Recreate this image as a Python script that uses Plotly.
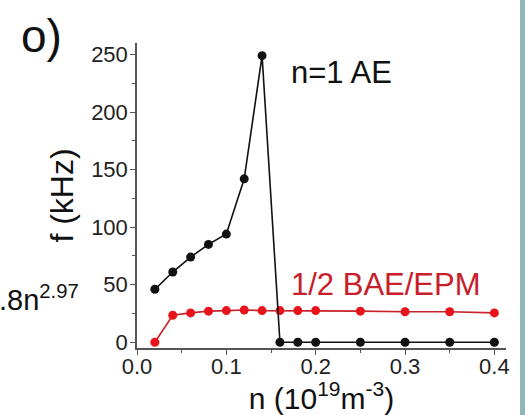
import plotly.graph_objects as go

# Data
x_vals = [0.02, 0.04, 0.06, 0.08, 0.10, 0.12, 0.14, 0.16, 0.18, 0.20, 0.25, 0.30, 0.35, 0.40]
ae_vals = [46, 61, 74, 85, 94, 142, 249, 0, 0, 0, 0, 0, 0, 0]
bae_vals = [0, 23.5, 25.5, 27, 27.5, 28, 27.5, 27.5, 27.5, 27.5, 27, 26.5, 26.5, 25.5]
x_ticks = [0.0, 0.1, 0.2, 0.3, 0.4]
x_tick_text = ["0.0", "0.1", "0.2", "0.3", "0.4"]
y_ticks = [0, 50, 100, 150, 200, 250]

W, H = 525, 415
ml, mr, mt, mb = 137, 19, 43, 67
pw = W - ml - mr
ph = H - mt - mb

font_main = "Liberation Sans, Arial, sans-serif"

fig = go.Figure()
fig.add_trace(go.Scatter(
    x=x_vals, y=bae_vals, mode="lines+markers",
    line=dict(color="#c8222b", width=1.6),
    marker=dict(color="#e8141c", size=9, line=dict(width=0)),
    cliponaxis=False, showlegend=False))
fig.add_trace(go.Scatter(
    x=x_vals, y=ae_vals, mode="lines+markers",
    line=dict(color="#111111", width=1.6),
    marker=dict(color="#111111", size=9, line=dict(width=0)),
    cliponaxis=False, showlegend=False))

axis_common = dict(
    showgrid=False, zeroline=False, showline=True, linecolor="#555555", linewidth=1.5,
    ticks="outside", ticklen=5, tickwidth=1.2, tickcolor="#555555", automargin=False,
    tickfont=dict(family=font_main, size=22, color="#222222"),
)
fig.update_xaxes(range=[0, 0.413], tickvals=x_ticks, ticktext=x_tick_text, ticklabelstandoff=-7,
                 minor=dict(ticks="outside", ticklen=3, tickwidth=1, tickcolor="#555555", dtick=0.05, tick0=0),
                 title=dict(text="n (10<sup>19</sup>m<sup>-3</sup>)", font=dict(family=font_main, size=30, color="#111111"), standoff=4),
                 **axis_common)
fig.update_yaxes(range=[-5, 260], tickvals=y_ticks, ticklabelstandoff=-2,
                 minor=dict(ticks="outside", ticklen=3, tickwidth=1, tickcolor="#555555", dtick=25, tick0=0),
                 title=dict(text="f (kHz)", font=dict(family=font_main, size=32, color="#111111"), standoff=8),
                 **axis_common)

def px_to_paper_x(px):
    return (px - ml) / pw

def py_to_paper_y(py):
    return (H - mb - py) / ph

fig.add_annotation(x=px_to_paper_x(19), y=py_to_paper_y(36), xref="paper", yref="paper",
                   text="o)", showarrow=False, xanchor="left", yanchor="middle",
                   font=dict(family=font_main, size=46, color="#111111"))
fig.add_annotation(x=px_to_paper_x(289), y=py_to_paper_y(72), xref="paper", yref="paper",
                   text="n=1 AE", showarrow=False, xanchor="left", yanchor="middle",
                   font=dict(family=font_main, size=31, color="#111111"))
fig.add_annotation(x=px_to_paper_x(289), y=py_to_paper_y(284), xref="paper", yref="paper",
                   text="1/2 BAE/EPM", showarrow=False, xanchor="left", yanchor="middle",
                   font=dict(family=font_main, size=31, color="#c8202a"))
fig.add_annotation(x=px_to_paper_x(-3), y=py_to_paper_y(298), xref="paper", yref="paper",
                   text=".8n<sup>2.97</sup>", showarrow=False, xanchor="left", yanchor="middle",
                   font=dict(family=font_main, size=29, color="#111111"))

# right edge stripe
fig.add_shape(type="rect", xref="paper", yref="paper",
              x0=px_to_paper_x(520), x1=px_to_paper_x(530), y0=py_to_paper_y(420), y1=py_to_paper_y(-5),
              fillcolor="#8fb7ba", line=dict(width=0), layer="above")

fig.update_layout(width=W, height=H, margin=dict(l=ml, r=mr, t=mt, b=mb),
                  paper_bgcolor="white", plot_bgcolor="white")

fig.write_html("out.html")
